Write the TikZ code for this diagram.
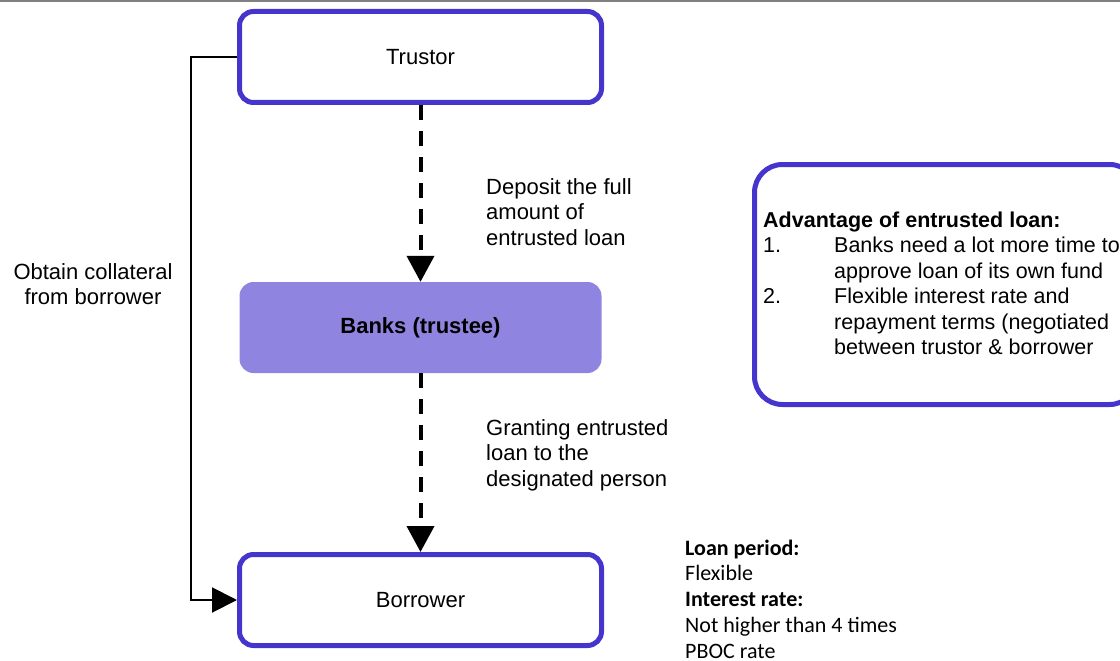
\documentclass[tikz,border=0pt]{standalone}
\usepackage{fontspec}
\setmainfont{Liberation Sans}
\newfontfamily\calibrifont{Carlito}
\usetikzlibrary{arrows.meta,positioning}
\definecolor{partyblue}{HTML}{4535CC}
\definecolor{bankfill}{HTML}{8F85E0}
\definecolor{rulegray}{HTML}{808080}
\begin{document}
\begin{tikzpicture}[x=1pt, y=-1pt,
    party/.style={draw=partyblue, line width=5pt, rounded corners=14pt, minimum width=362pt, minimum height=91pt, font=\fontsize{22}{25.5}\selectfont},
    bank/.style={fill=bankfill, rounded corners=14pt, minimum width=362pt, minimum height=91pt, font=\bfseries\fontsize{22}{25.5}\selectfont},
    flow/.style={line width=4pt, dash pattern=on 15pt off 11pt, -{Triangle[length=26pt,width=27pt]}},
    note/.style={inner sep=0pt, anchor=base west, font=\fontsize{22}{25.5}\selectfont}]
    \useasboundingbox (0,0) rectangle (1120,661);
    \fill [rulegray] (0,0) rectangle (1120,2.5);
    % the three parties
    \node [party] (trustor) at (420.5,57) {Trustor};
    \node [bank] (banks) at (420.5,327.5) {Banks (trustee)};
    \node [party] (borrower) at (420.5,600) {Borrower};
    % flows between them
    \draw [flow] (trustor.south) -- (banks.north);
    \draw [flow] (banks.south) -- (borrower.north);
    \draw [line width=2pt, -{Triangle[length=25pt,width=25pt]}] (trustor.west) -- ++(-46,0) |- (borrower.west);
    \node [note] (deposit) at (486,194) {\begin{tabular}[t]{@{}l@{}}Deposit the full\\amount of\\entrusted loan\end{tabular}};
    \node [note] (granting) at (486,435) {\begin{tabular}[t]{@{}l@{}}Granting entrusted\\loan to the\\designated person\end{tabular}};
    \node [note, anchor=base] (collateral) at (93,279) {\begin{tabular}[t]{@{}c@{}}Obtain collateral\\from borrower\end{tabular}};
    % advantages box
    \node [draw=partyblue, line width=5pt, rounded corners=28pt, minimum width=383pt, minimum height=240pt] (advbox) at (946,284.5) {};
    \node [note, font=\fontsize{21.5}{25.5}\selectfont] (advtext) at (763,227) {\begin{tabular}[t]{@{}p{71pt}@{}l@{}}
        \multicolumn{2}{@{}l@{}}{\bfseries Advantage of entrusted loan:}\\
        1. & Banks need a lot more time to\\
           & approve loan of its own fund\\
        2. & Flexible interest rate and\\
           & repayment terms (negotiated\\
           & between trustor \& borrower
        \end{tabular}};
    \node [note, font=\calibrifont\fontsize{22}{25.75}\selectfont] (terms) at (685,555) {\begin{tabular}[t]{@{}l@{}}
        \textbf{Loan period:}\\Flexible\\\textbf{Interest rate:}\\Not higher than 4 times\\PBOC rate
        \end{tabular}};
\end{tikzpicture}
\end{document}
